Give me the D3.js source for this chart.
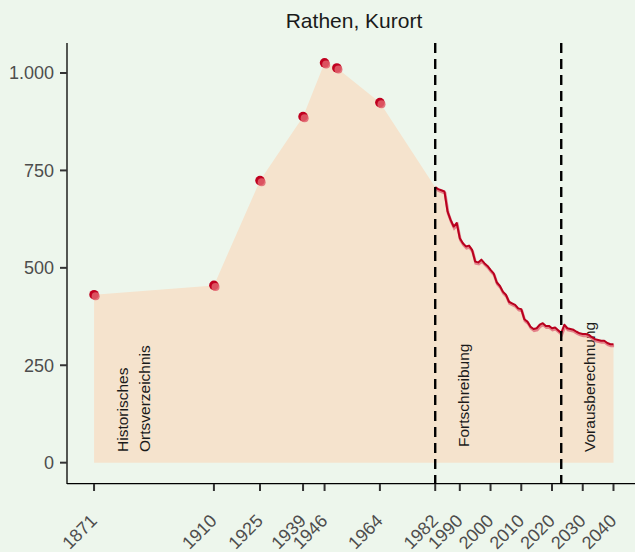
<!DOCTYPE html>
<html>
<head>
<meta charset="utf-8">
<script src="https://cdn.jsdelivr.net/npm/d3@7"></script>
<style>
  html, body { margin: 0; padding: 0; background: #edf6ec; }
  svg { display: block; font-family: "Liberation Sans", Arial, Helvetica, sans-serif; }
</style>
</head>
<body>
<svg id="chart" width="635" height="552"></svg>
<script>
// ---- data ----
const title = "Rathen, Kurort";
const histYears  = [1871, 1910, 1925, 1939, 1946, 1950, 1964];
const histValues = [431, 455, 724, 888, 1026, 1013, 924];

const fortYears = [1982,1983,1984,1985,1986,1987,1988,1989,1990,1991,1992,1993,1994,1995,1996,1997,1998,1999,2000,2001,2002,2003,2004,2005,2006,2007,2008,2009,2010,2011,2012,2013,2014,2015,2016,2017,2018,2019,2020,2021,2022];
const fortValues = [707,702,699,696,645,623,606,615,576,563,555,557,546,516,514,521,512,505,495,486,463,454,439,431,413,409,405,396,394,368,362,349,343,345,354,358,351,351,345,347,340];

const projYears = [2023,2024,2025,2026,2027,2028,2029,2030,2031,2032,2033,2034,2035,2036,2037,2038,2039,2040];
const projValues = [333,354,345,343,341,336,332,330,330,328,322,317,315,313,313,307,304,304];

const xTicks = [1871, 1910, 1925, 1939, 1946, 1964, 1982, 1990, 2000, 2010, 2020, 2030, 2040];
const yTicks = [0, 250, 500, 750, 1000];
const breakYears = [1982, 2023];
const annotations = [
  {year: 1871, lines: ["Historisches", "Ortsverzeichnis"]},
  {year: 1982, lines: ["Fortschreibung"]},
  {year: 2023, lines: ["Vorausberechnung"]}
];

// ---- layout ----
const svg = d3.select("#chart");
const W = 635, H = 552;
svg.append("rect").attr("width", W).attr("height", H).attr("fill", "#edf6ec");

const x = d3.scaleLinear().domain([1862.2, 2047]).range([67, 635]);
const y = d3.scaleLinear().domain([-53.7, 1077]).range([483.6, 43]);

const histPts = histYears.map((yr, i) => ({year: yr, value: histValues[i]}));
const linePts = fortYears.map((yr, i) => ({year: yr, value: fortValues[i]}))
  .concat(projYears.map((yr, i) => ({year: yr, value: projValues[i]})));
const allPts = histPts.concat(linePts);

// area
const area = d3.area().x(d => x(d.year)).y0(y(0)).y1(d => y(d.value));
svg.append("path").datum(allPts).attr("d", area).attr("fill", "#f5e3cd");

// annotations
const fs = "15.5px";
annotations.forEach(a => {
  const offsets = a.lines.length === 2 ? [[34, 452], [56, 452]] :
    (a.year === 1982 ? [[34, 447]] : [[34, 452]]);
  a.lines.forEach((t, i) => {
    const px = x(a.year) + offsets[i][0];
    const py = offsets[i][1];
    svg.append("text")
      .attr("transform", `translate(${px},${py}) rotate(-90)`)
      .attr("text-anchor", "start")
      .attr("font-size", fs)
      .attr("fill", "#1a1a1a")
      .text(t);
  });
});

// line with light shadow
const line = d3.line().x(d => x(d.year)).y(d => y(d.value));
svg.append("path").datum(linePts).attr("d", line)
  .attr("fill", "none").attr("stroke", "#e0707c").attr("stroke-width", 2.8)
  .attr("stroke-opacity", 0.85)
  .attr("transform", "translate(0.6,1.7)");
svg.append("path").datum(linePts).attr("d", line)
  .attr("fill", "none").attr("stroke", "#b8001e").attr("stroke-width", 2)
  .attr("stroke-linejoin", "round");

// points with light overlay
const pg = svg.append("g");
pg.selectAll("circle.d").data(histPts).join("circle")
  .attr("cx", d => x(d.year)).attr("cy", d => y(d.value)).attr("r", 4.8)
  .attr("fill", "#c0001f");
pg.selectAll("circle.l").data(histPts).join("circle")
  .attr("cx", d => x(d.year) + 1.6).attr("cy", d => y(d.value) + 1.6).attr("r", 4.0)
  .attr("fill", "#e0606c").attr("fill-opacity", 0.85);

// dashed breaks
breakYears.forEach(b => {
  svg.append("line")
    .attr("x1", x(b)).attr("x2", x(b)).attr("y1", 43).attr("y2", 484)
    .attr("stroke", "#000").attr("stroke-width", 2.4)
    .attr("stroke-dasharray", "10,6");
});

// axes
svg.append("line").attr("x1", 67).attr("x2", 67).attr("y1", 43).attr("y2", 484)
  .attr("stroke", "#000").attr("stroke-width", 1.3);
svg.append("line").attr("x1", 67).attr("x2", 635).attr("y1", 483.6).attr("y2", 483.6)
  .attr("stroke", "#000").attr("stroke-width", 1.3);

const fmt = v => d3.format(",")(v).replace(/,/g, ".");
yTicks.forEach(v => {
  svg.append("line").attr("x1", 60).attr("x2", 67).attr("y1", y(v)).attr("y2", y(v))
    .attr("stroke", "#333").attr("stroke-width", 2);
  svg.append("text").attr("x", 54).attr("y", y(v)).attr("dy", "0.36em")
    .attr("text-anchor", "end").attr("font-size", "18px").attr("fill", "#4d4d4d")
    .text(fmt(v));
});
xTicks.forEach(v => {
  svg.append("line").attr("x1", x(v)).attr("x2", x(v)).attr("y1", 484).attr("y2", 491)
    .attr("stroke", "#333").attr("stroke-width", 2);
  svg.append("text")
    .attr("transform", `translate(${x(v) + 4},${522}) rotate(-45)`)
    .attr("text-anchor", "end").attr("font-size", "18px").attr("fill", "#4d4d4d")
    .text(v);
});

// title
svg.append("text").attr("x", 354).attr("y", 27.5).attr("text-anchor", "middle")
  .attr("font-size", "21px").attr("fill", "#1a1a1a").text(title);
</script>
</body>
</html>
